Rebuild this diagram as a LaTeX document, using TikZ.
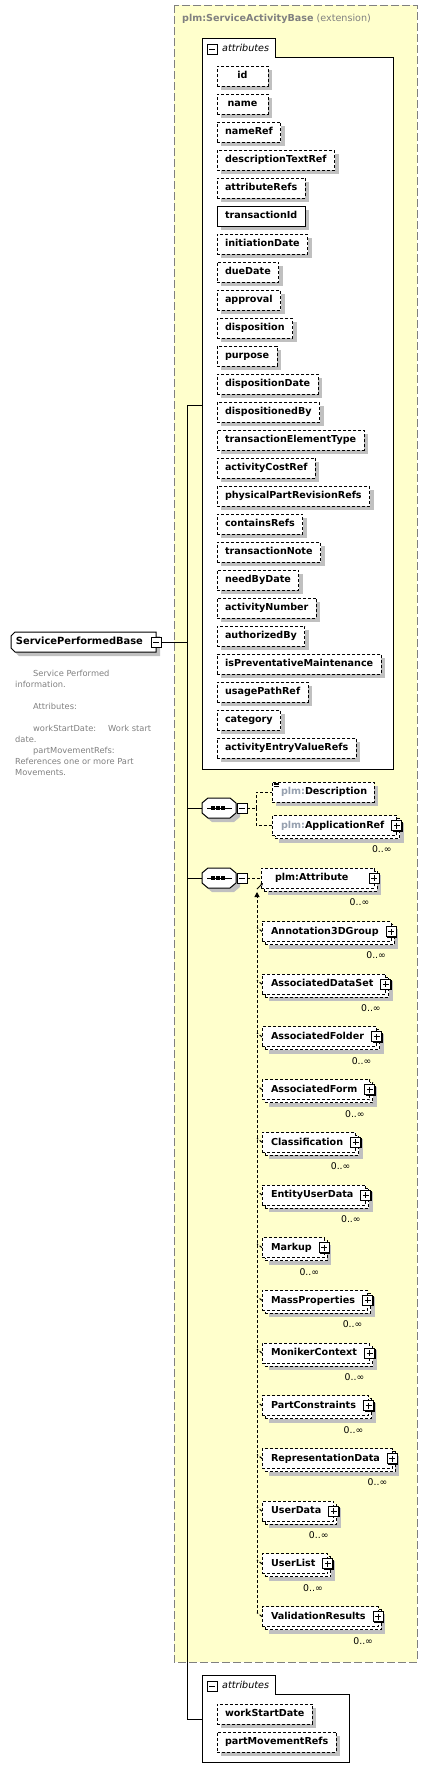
\documentclass[tikz,border=0pt]{standalone}
\usepackage{fontspec}
\setmainfont{DejaVu Sans}
\usetikzlibrary{shadows,arrows.meta}

\definecolor{extfill}{RGB}{255,255,204}
\definecolor{extline}{RGB}{128,128,128}
\definecolor{shadegray}{RGB}{192,192,192}
\definecolor{docgray}{RGB}{128,128,128}
\definecolor{nsgray}{RGB}{150,160,175}

\newcommand\nodefont{\fontsize{9.6}{11}\selectfont\bfseries}
\newcommand\docfont{\fontsize{8.3}{11}\selectfont}
\newcommand\occfont{\fontsize{9.3}{11}\selectfont}
\newcommand\ns{\textcolor{nsgray}{plm:}}

\tikzset{
  conn/.style={line width=1pt},
  optconn/.style={line width=1pt, dash pattern=on 3pt off 2pt},
  greyshadow/.style={drop shadow={shadow xshift=#1, shadow yshift=-#1, fill=shadegray, opacity=1}},
  boxbase/.style={draw, fill=white, line width=1pt, inner sep=0pt, outer sep=0pt,
    minimum height=20pt, text height=7.5pt, text depth=2pt, font=\nodefont},
  attropt/.style={boxbase, dash pattern=on 3pt off 2pt, minimum width=51pt, inner xsep=8pt,
    anchor=west, greyshadow=4pt},
  attrreq/.style={attropt, solid},
  leafbox/.style={boxbase, dash pattern=on 3pt off 2pt, anchor=west,
    execute at begin node=\hspace*{9pt}, execute at end node=\hspace*{7pt}, greyshadow=4pt},
  manybox/.style={boxbase, dash pattern=on 3pt off 2pt, anchor=west,
    execute at begin node=\hspace*{9pt}, execute at end node=\hspace*{12.5pt},
    greyshadow=7pt,
    copy shadow={shadow xshift=3pt, shadow yshift=-3pt, line width=1pt, dash pattern=on 3pt off 2pt}},
  topelem/.style={inner sep=0pt, outer sep=0pt, anchor=west, text height=7.5pt, text depth=2pt,
    font=\fontsize{9.9}{11}\selectfont\bfseries},
  btn/.style={draw, fill=white, line width=1pt, minimum size=10pt, inner sep=0pt, outer sep=0pt,
    drop shadow={shadow xshift=1pt, shadow yshift=-1pt, fill=black, opacity=1}},
  minusbtn/.style={btn, path picture={
    \draw[line width=1pt] ([xshift=2pt]path picture bounding box.west) -- ([xshift=-2pt]path picture bounding box.east);}},
  plusbtn/.style={btn, path picture={
    \draw[line width=1pt] ([xshift=2pt]path picture bounding box.west) -- ([xshift=-2pt]path picture bounding box.east)
      ([yshift=-2pt]path picture bounding box.north) -- ([yshift=2pt]path picture bounding box.south);}},
  seqnode/.style={minimum width=34pt, minimum height=20pt, inner sep=0pt, outer sep=0pt},
  occ/.style={font=\occfont, inner sep=0pt, anchor=east},
  grpline/.style={line width=1pt, fill=white},
  grplabel/.style={font=\fontsize{9.6}{11}\selectfont\itshape, inner sep=0pt, anchor=west},
  extbox/.style={draw=extline, fill=extfill, line width=1pt, dash pattern=on 8pt off 3pt},
}

\begin{document}
\begin{tikzpicture}[x=1pt,y=-1pt]
\useasboundingbox (0,0) rectangle (427,1780);

% extension
\draw[extbox] (174,5) rectangle (417,1662);
\node[anchor=west, inner sep=0pt, text=extline, font=\fontsize{9.6}{11}\selectfont] (exttitle) at (182,19)
  {\textbf{plm:ServiceActivityBase} (extension)};

% inherited attributes
\draw[grpline] (202,38) -- (275,38) -- (275,57) -- (393,57) -- (393,769) -- (202,769) -- cycle;
\node[minusbtn] (attrsbtn) at (212,49) {};
\node[grplabel] (attrslbl) at (222,48) {attributes};
\coordinate (attrsin) at (202,405);
\foreach \n/\s [count=\i from 0] in {id/attropt, name/attropt, nameRef/attropt,
    descriptionTextRef/attropt, attributeRefs/attropt, transactionId/attrreq,
    initiationDate/attropt, dueDate/attropt, approval/attropt, disposition/attropt,
    purpose/attropt, dispositionDate/attropt, dispositionedBy/attropt,
    transactionElementType/attropt, activityCostRef/attropt,
    physicalPartRevisionRefs/attropt, containsRefs/attropt, transactionNote/attropt,
    needByDate/attropt, activityNumber/attropt, authorizedBy/attropt,
    isPreventativeMaintenance/attropt, usagePathRef/attropt, category/attropt,
    activityEntryValueRefs/attropt}
  \node[\s] (a\i) at (217,76+28*\i) {\n};

% the element
\fill[shadegray] (19,636) -- (160,636) -- (160,656) -- (19,656) -- (15,652) -- (15,640) -- cycle;
\draw[conn, fill=white] (15,632) -- (156,632) -- (156,652) -- (15,652) -- (11,648) -- (11,636) -- cycle;
\node[topelem] (spb) at (16,642) {ServicePerformedBase};
\node[minusbtn] (spbbtn) at (156,642) {};
\coordinate (fork) at (187,642);
\draw[conn] (spbbtn.east) -- (fork);
\node[anchor=north west, align=left, inner sep=0pt, text=docgray, font=\docfont] (spbdoc) at (15,670)
  {\hspace*{18pt}Service Performed\\
   information.\\[11pt]
   \hspace*{18pt}Attributes:\\[11pt]
   \hspace*{18pt}workStartDate:\hspace{12pt}Work start\\
   date.\\
   \hspace*{18pt}partMovementRefs:\\
   References one or more Part\\
   Movements.};

\draw[conn] (fork) |- (attrsin);

% sequences
\node[seqnode] (seq1) at (219,808) {};
\node[seqnode] (seq2) at (219,878) {};
\foreach \q in {seq1,seq2} {
  \fill[shadegray, transform canvas={shift={(4pt,-4pt)}}] ([yshift=5pt]\q.west) -- ([xshift=6pt]\q.north west)
    -- ([xshift=-6pt]\q.north east) -- ([yshift=5pt]\q.east) -- ([yshift=-5pt]\q.east)
    -- ([xshift=-6pt]\q.south east) -- ([xshift=6pt]\q.south west) -- ([yshift=-5pt]\q.west) -- cycle;
  \draw[conn, fill=white] ([yshift=5pt]\q.west) -- ([xshift=6pt]\q.north west)
    -- ([xshift=-6pt]\q.north east) -- ([yshift=5pt]\q.east) -- ([yshift=-5pt]\q.east)
    -- ([xshift=-6pt]\q.south east) -- ([xshift=6pt]\q.south west) -- ([yshift=-5pt]\q.west) -- cycle;
  \draw[conn] ([xshift=5pt]\q.west) -- ([xshift=-4pt]\q.east);
  \foreach \d in {-6,-1,4}
    \fill ([xshift=\d pt]\q.center) +(-2,-2) rectangle +(2,2);
  \draw[conn] (fork) |- (\q.west);
}
\node[minusbtn] (seq1btn) at (242,808) {};
\node[minusbtn] (seq2btn) at (242,878) {};

% first sequence content
\node[leafbox] (desc) at (272,792) {\ns Description};
\foreach \k in {0,1,2}
  \draw[line width=0.7pt] ([xshift=1.5pt,yshift=-1pt-1.6*\k pt]desc.north west) -- ++(5,0);
\node[manybox] (appref) at (272,825.5) {\ns ApplicationRef};
\node[plusbtn] (apprefbtn) at (appref.east) {};
\node[occ] (apprefocc) at ([yshift=-24pt]apprefbtn.west) {0..∞};
\coordinate (seq1fan) at (256,808);
\draw[optconn] (seq1btn.east) -- (seq1fan);
\draw[optconn] (seq1fan) |- (desc.west);
\draw[optconn] (seq1fan) |- (appref.west);

% second sequence content
\node[manybox, execute at begin node=\hspace*{5pt}, execute at end node=\hspace*{13.5pt}] (attr) at (261,878) {plm:Attribute};
\node[plusbtn] (attrbtn) at (attr.east) {};
\node[occ] (attrocc) at ([yshift=-24pt]attrbtn.west) {0..∞};
\draw[optconn] (seq2btn.east) -- (attr.west);

% substitution group
\coordinate (subtop) at (257,892);
\coordinate (subbot) at (257,1613);
\draw[optconn, -{Triangle[length=5pt,width=5pt]}] (subbot) -- (subtop);
\draw[conn, -{Stealth[length=3pt,width=3pt]}] ([shift={(-4pt,-1pt)}]attr.south west) -- ([shift={(2pt,5pt)}]attr.south west);
\foreach \n [count=\i from 0] in {Annotation3DGroup, AssociatedDataSet, AssociatedFolder,
    AssociatedForm, Classification, EntityUserData, Markup, MassProperties,
    MonikerContext, PartConstraints, RepresentationData, UserData, UserList,
    ValidationResults} {
  \node[manybox] (s\i) at (262,931.5+52.7*\i) {\n};
  \node[plusbtn] (s\i btn) at (s\i.east) {};
  \node[occ] (s\i occ) at ([yshift=-24pt]s\i btn.west) {0..∞};
  \draw[optconn] (s\i.west) -- ++(-5,-4);
}

% own attributes
\draw[grpline] (202,1675) -- (275,1675) -- (275,1694) -- (349,1694) -- (349,1762) -- (202,1762) -- cycle;
\node[minusbtn] (ownbtn) at (212,1686) {};
\node[grplabel] (ownlbl) at (222,1685) {attributes};
\coordinate (ownin) at (202,1719);
\draw[conn] (fork) |- (ownin);
\node[attropt] (workStartDate) at (217,1714) {workStartDate};
\node[attropt] (partMovementRefs) at (217,1742) {partMovementRefs};
\end{tikzpicture}
\end{document}
